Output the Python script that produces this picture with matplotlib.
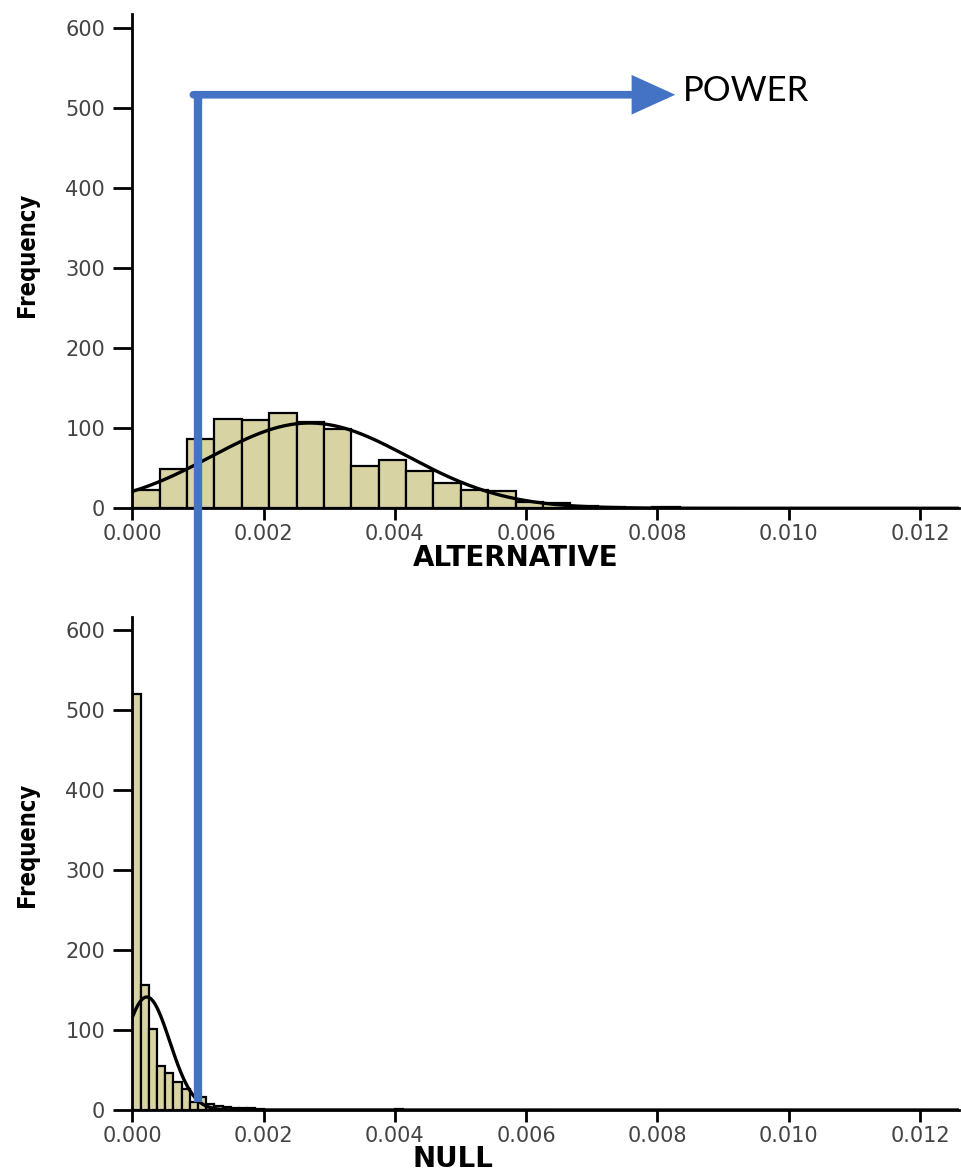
import numpy as np
import matplotlib
matplotlib.use('Agg')
import matplotlib.pyplot as plt
from matplotlib.lines import Line2D
from matplotlib import font_manager

# histogram counts
alt_bin_width = 0.000417
alt_counts = [23, 49, 86, 111, 110, 119, 108, 99, 53, 60, 47, 31, 23, 22, 8, 7, 3, 1, 0, 1]
alt_fit_mean = 0.0027
alt_fit_sd = 0.0015

null_bin_width = 0.000125
null_counts = [520, 156, 101, 55, 46, 35, 26, 10, 16, 8, 5, 4, 3, 2, 2, 1,
               0, 0, 0, 0, 0, 0, 0, 0, 0, 0, 0, 0, 0, 0, 0, 0, 1]
null_fit_mean = 0.00022
null_fit_sd = 0.00035

critical_value = 0.001
power_arrow_y = 517
power_arrow_end = 0.00827
power_label = 'POWER'

x_ticks = [0.000, 0.002, 0.004, 0.006, 0.008, 0.010, 0.012]
y_ticks = [0, 100, 200, 300, 400, 500, 600]

bar_color = '#d8d3a2'
blue = '#4472c4'

# narrow bold font for the y label if one is around
narrow = [f.name for f in font_manager.fontManager.ttflist
          if 'Narrow' in f.name or 'Condensed' in f.fname]
ylab_font = dict(family='DejaVu Sans', stretch='condensed')
if any('Liberation Sans Narrow' == n for n in narrow):
    ylab_font = dict(family='Liberation Sans Narrow')

fig = plt.figure(figsize=(9.61, 11.73), dpi=100)
ax_top = fig.add_axes([0.1377, 0.5667, 0.8607, 0.4214])
ax_bot = fig.add_axes([0.1377, 0.0537, 0.8607, 0.4203])


def draw_hist(ax, counts, bw, mean, sd, ymax, xlabel, ylab_y):
    counts = np.array(counts, dtype=float)
    lefts = np.arange(len(counts)) * bw
    ax.bar(lefts, counts, width=bw, align='edge', color=bar_color,
           edgecolor='black', linewidth=1.6, zorder=2)
    # normal curve scaled to the histogram
    xs = np.linspace(0, 0.0126, 600)
    n = counts.sum()
    ys = n * bw / (sd * np.sqrt(2 * np.pi)) * np.exp(-0.5 * ((xs - mean) / sd) ** 2)
    ax.plot(xs, ys, color='black', lw=2.4, zorder=3)
    ax.set_xlim(0, 0.0126)
    ax.set_ylim(0, ymax)
    ax.set_xticks(x_ticks)
    ax.set_xticklabels(['%.3f' % t for t in x_ticks])
    ax.set_yticks(y_ticks)
    for s in ['top', 'right']:
        ax.spines[s].set_visible(False)
    for s in ['left', 'bottom']:
        ax.spines[s].set_linewidth(2)
    ax.tick_params(axis='x', length=8.6, width=2, pad=3, labelsize=15, labelcolor='#444444')
    ax.tick_params(axis='y', length=13.5, width=2, pad=6, labelsize=15, labelcolor='#444444')
    ax.set_xlabel(xlabel, fontsize=20, fontweight='bold', family='DejaVu Sans',
                  ha='left', va='center')
    ax.xaxis.set_label_coords(0.339, -0.1)
    ax.set_ylabel('Frequency', fontsize=17, fontweight='bold', va='center', **ylab_font)
    ax.yaxis.set_label_coords(-0.127, ylab_y)


draw_hist(ax_top, alt_counts, alt_bin_width, alt_fit_mean, alt_fit_sd, 618, 'ALTERNATIVE', 0.512)
draw_hist(ax_bot, null_counts, null_bin_width, null_fit_mean, null_fit_sd, 616, 'NULL', 0.537)

# blue power line from the critical value up to the arrow
to_fig = fig.transFigure.inverted()
p0 = to_fig.transform(ax_bot.transData.transform((critical_value, 10)))
p1 = to_fig.transform(ax_top.transData.transform((critical_value, power_arrow_y)))
fig.add_artist(Line2D([p0[0], p1[0]], [p0[1], p1[1] + 0.003], color=blue, lw=6,
                      solid_capstyle='butt', zorder=10))
ax_top.annotate('', xy=(power_arrow_end, power_arrow_y), xytext=(critical_value - 0.00007, power_arrow_y),
                arrowprops=dict(arrowstyle='-|>,head_length=1.1,head_width=0.5',
                                mutation_scale=20, lw=5.5, color=blue, shrinkA=0, shrinkB=0,
                                joinstyle='miter'),
                annotation_clip=False, zorder=10)
ax_top.text(power_arrow_end + 0.00012, power_arrow_y + 5, power_label, fontsize=25,
            family='Lato', ha='left', va='center', color='black')

fig.savefig('out.png', dpi=100)
